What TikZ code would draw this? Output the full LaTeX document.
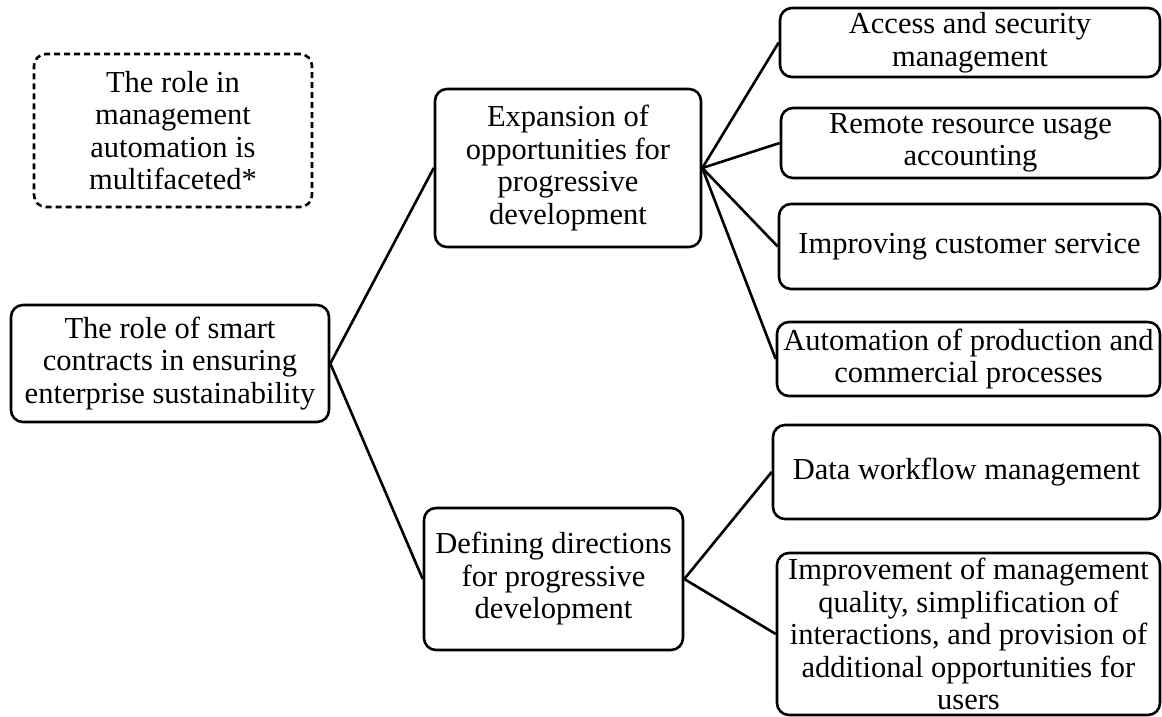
\documentclass[tikz,border=0pt]{standalone}
\usepackage{fontspec}
\setmainfont{Liberation Serif}
\usepackage{tikz}

\begin{document}
\begin{tikzpicture}[x=1pt, y=-1pt, line width=2.6pt,
	box/.style={draw, rounded corners=12pt, align=center, inner sep=2pt, font=\fontsize{30.5}{32.5}\selectfont},
	note/.style={box, dash pattern=on 6pt off 4pt}]
			\useasboundingbox (0,0) rectangle (1162,717);
			\node[note, minimum width=278pt, minimum height=153pt] (role) at (173,130.5) {The role in\\management\\automation is\\multifaceted*};
			\node[box, minimum width=318pt, minimum height=117pt] (root) at (170,363.5) {The role of smart\\contracts in ensuring\\enterprise sustainability};
			\node[box, minimum width=266pt, minimum height=158pt] (exp) at (568,168) {Expansion of\\opportunities for\\progressive\\development};
			\node[box, minimum width=259pt, minimum height=142pt] (dir) at (553.5,579) {Defining directions\\for progressive\\development};
			
			\node[box, minimum width=380pt, minimum height=69pt] (acc) at (970,42.5) {Access and security\\management};
			\node[box, minimum width=379pt, minimum height=70pt] (rem) at (970.5,143) {Remote resource usage\\accounting};
			\node[box, minimum width=381pt, minimum height=85pt] (cust) at (969.5,246.5) {Improving customer service};
			\node[box, minimum width=383pt, minimum height=74pt] (auto) at (968.5,359) {Automation of production and\\commercial processes};
			\node[box, minimum width=387pt, minimum height=94pt] (data) at (966.5,472) {Data workflow management};
			\node[box, minimum width=383pt, minimum height=162pt] (qual) at (968.5,634) {Improvement of management\\quality, simplification of\\interactions, and provision of\\additional opportunities for\\users};
			
			\draw (root.east)--(exp.west);
			\draw (root.east)--(dir.west);
			\draw (exp.east)--(acc.west);
			\draw (exp.east)--(rem.west);
			\draw (exp.east)--(cust.west);
			\draw (exp.east)--(auto.west);
			\draw (dir.east)--(data.west);
			\draw (dir.east)--(qual.west);
			
		\end{tikzpicture}
\end{document}
